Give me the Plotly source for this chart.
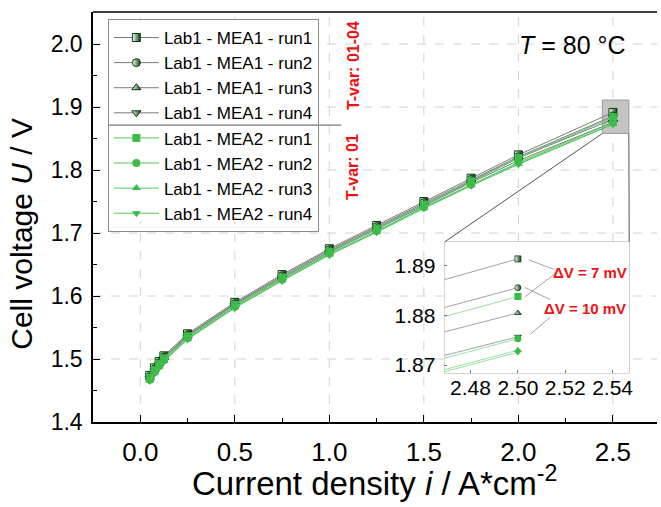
import plotly.graph_objects as go

# ---------------- data ----------------
current = [0.05, 0.075, 0.1, 0.125, 0.25, 0.5, 0.75, 1.0, 1.25, 1.5, 1.75, 2.0, 2.5]

mea1_run1 = [1.474, 1.486, 1.496, 1.505, 1.540, 1.590, 1.634, 1.675, 1.712, 1.750, 1.787, 1.824, 1.8914]
mea1_run2 = [1.472, 1.484, 1.494, 1.503, 1.538, 1.588, 1.632, 1.673, 1.710, 1.748, 1.785, 1.821, 1.8856]
mea1_run3 = [1.471, 1.483, 1.493, 1.502, 1.537, 1.587, 1.630, 1.671, 1.708, 1.746, 1.783, 1.819, 1.8805]
mea1_run4 = [1.469, 1.481, 1.491, 1.500, 1.535, 1.585, 1.628, 1.669, 1.706, 1.744, 1.780, 1.815, 1.8757]
mea2_run1 = [1.470, 1.482, 1.492, 1.501, 1.536, 1.586, 1.629, 1.670, 1.707, 1.745, 1.782, 1.819, 1.8838]
mea2_run2 = [1.467, 1.479, 1.489, 1.498, 1.533, 1.583, 1.626, 1.667, 1.703, 1.741, 1.777, 1.812, 1.8753]
mea2_run3 = [1.466, 1.478, 1.488, 1.497, 1.532, 1.582, 1.625, 1.666, 1.702, 1.740, 1.776, 1.810, 1.8730]
mea2_run4 = [1.465, 1.477, 1.487, 1.496, 1.531, 1.581, 1.624, 1.665, 1.701, 1.739, 1.775, 1.809, 1.8726]

names = ["Lab1 - MEA1 - run1", "Lab1 - MEA1 - run2", "Lab1 - MEA1 - run3", "Lab1 - MEA1 - run4",
         "Lab1 - MEA2 - run1", "Lab1 - MEA2 - run2", "Lab1 - MEA2 - run3", "Lab1 - MEA2 - run4"]
series = [mea1_run1, mea1_run2, mea1_run3, mea1_run4, mea2_run1, mea2_run2, mea2_run3, mea2_run4]
symbols = ["square", "circle", "triangle-up", "triangle-down"] * 2

x_ticks = [0.0, 0.5, 1.0, 1.5, 2.0, 2.5]
y_ticks = [1.4, 1.5, 1.6, 1.7, 1.8, 1.9, 2.0]
inset_x_ticks = [2.48, 2.50, 2.52, 2.54]
inset_y_ticks = [1.87, 1.88, 1.89]

# ---------------- styling ----------------
FONT = "Liberation Sans, Arial, sans-serif"
DARK = "#0b3d10"
GREEN = "#3dbb4a"
LINE1 = "#7a7a7a"
LINE2 = "#55c860"

XR = [-0.25, 2.733]
YR = [1.4, 2.0508]
IXR = [2.469, 2.547]
IYR = [1.8684, 1.8948]
IDX = [0.6232, 0.9507]
IDY = [0.1195, 0.439]

fig = go.Figure()

for k, (nm, ys) in enumerate(zip(names, series)):
    mea1 = k < 4
    if mea1:
        marker = dict(symbol=symbols[k], size=8, color="white",
                      gradient=dict(type="horizontal", color=DARK),
                      line=dict(color=DARK, width=1))
        mk_in = dict(symbol=symbols[k], size=6, color="white",
                     gradient=dict(type="horizontal", color=DARK),
                     line=dict(color=DARK, width=0.8))
        lc = LINE1
    else:
        marker = dict(symbol=symbols[k], size=8, color=GREEN, line=dict(width=0))
        mk_in = dict(symbol=symbols[k], size=7, color=GREEN, line=dict(width=0))
        lc = LINE2
    fig.add_trace(go.Scatter(x=current, y=ys, name=nm, mode="lines+markers",
                             line=dict(color=lc, width=1), marker=marker,
                             legendgroup="g1" if mea1 else "g2",
                             xaxis="x", yaxis="y"))
    fig.add_trace(go.Scatter(x=current, y=ys, name=nm, mode="lines+markers",
                             line=dict(color=LINE1 if mea1 else "#6fd27a", width=0.7),
                             marker=mk_in, showlegend=False,
                             xaxis="x2", yaxis="y2"))

# zoom box in the main plot
bx0, bx1, by0, by1 = 2.444, 2.584, 1.858, 1.911
# inset corners expressed in main-axis data coords
ix0 = XR[0] + IDX[0] * (XR[1] - XR[0])
ix1 = XR[0] + IDX[1] * (XR[1] - XR[0])
iy1 = YR[0] + IDY[1] * (YR[1] - YR[0])

shapes = []
# dashed grid (drawn as shapes so the grey boxes can cover it)
for v in x_ticks:
    shapes.append(dict(type="line", xref="x", yref="paper", x0=v, x1=v, y0=0, y1=1,
                       line=dict(color="#d2d2d2", width=1, dash="dash"), layer="below"))
for v in y_ticks[1:]:
    shapes.append(dict(type="line", xref="paper", yref="y", x0=0, x1=1, y0=v, y1=v,
                       line=dict(color="#d2d2d2", width=1, dash="dash"), layer="below"))
shapes += [
    dict(type="rect", xref="x", yref="y", x0=bx0, x1=bx1, y0=by0, y1=by1,
         fillcolor="#c4c4c4", line=dict(color="#9a9a9a", width=1), layer="below"),
    dict(type="rect", xref="paper", yref="paper", x0=IDX[0], x1=IDX[1], y0=IDY[0], y1=IDY[1],
         fillcolor="#c4c4c4", line=dict(color="#a8a8a8", width=1), layer="below"),
    dict(type="line", xref="x", yref="y", x0=bx0, y0=by0, x1=ix0, y1=iy1,
         line=dict(color="#555555", width=1)),
    dict(type="line", xref="x", yref="y", x0=bx1, y0=by0, x1=ix1, y1=iy1,
         line=dict(color="#555555", width=1)),
    # top frame line
    dict(type="line", xref="paper", yref="paper", x0=0, x1=1, y0=1, y1=1,
         line=dict(color="black", width=1.5)),
    # white backing for the (transparent) legend
    dict(type="rect", xref="paper", yref="paper", x0=0.028, x1=0.41, y0=0.49, y1=0.978,
         fillcolor="white", line=dict(width=0), layer="above"),
    # legend divider
    dict(type="line", xref="paper", yref="paper", x0=0.0264, x1=0.440, y0=0.724, y1=0.724,
         line=dict(color="#777777", width=1.2)),
    # pointer lines in the inset
    dict(type="line", xref="x2", yref="y2", x0=2.5046, y0=1.8912, x1=2.5151, y1=1.8893,
         line=dict(color="#8a8a8a", width=0.8)),
    dict(type="line", xref="x2", yref="y2", x0=2.5151, y0=1.8882, x1=2.5031, y1=1.8838,
         line=dict(color="#8a8a8a", width=0.8)),
    dict(type="line", xref="x2", yref="y2", x0=2.5031, y0=1.8856, x1=2.5136, y1=1.8832,
         line=dict(color="#8a8a8a", width=0.8)),
    dict(type="line", xref="x2", yref="y2", x0=2.5136, y0=1.8796, x1=2.5052, y1=1.8762,
         line=dict(color="#8a8a8a", width=0.8)),
]

annotations = [
    dict(text="Current density <i>i</i> / A*cm<sup>-2</sup>", xref="paper", yref="paper",
         x=0.4995, y=-0.145, showarrow=False, font=dict(size=33, color="black"),
         xanchor="center", yanchor="middle"),
    dict(text="Cell voltage <i>U</i> / V", xref="paper", yref="paper",
         x=-0.127, y=0.46, showarrow=False, font=dict(size=30, color="black"),
         textangle=-90, xanchor="center", yanchor="middle"),
    dict(text="<i>T</i> = 80 °C", xref="paper", yref="paper", x=0.851, y=0.9195,
         showarrow=False, font=dict(size=25, color="black"),
         xanchor="center", yanchor="middle"),
    dict(text="<b>T-var: 01-04</b>", xref="paper", yref="paper", x=0.461, y=0.868,
         showarrow=False, textangle=-90, font=dict(size=16, color="#ee1111"),
         xanchor="center", yanchor="middle"),
    dict(text="<b>T-var: 01</b>", xref="paper", yref="paper", x=0.461, y=0.622,
         showarrow=False, textangle=-90, font=dict(size=16, color="#ee1111"),
         xanchor="center", yanchor="middle"),
    dict(text="<b>ΔV = 7 mV</b>", xref="x2", yref="y2", x=2.5305, y=1.8886,
         showarrow=False, font=dict(size=15, color="#ee1111")),
    dict(text="<b>ΔV = 10 mV</b>", xref="x2", yref="y2", x=2.5283, y=1.8814,
         showarrow=False, font=dict(size=15, color="#ee1111")),
]

fig.update_layout(
    width=661, height=507,
    margin=dict(l=93, r=0, t=12, b=85),
    paper_bgcolor="white", plot_bgcolor="white",
    font=dict(family=FONT, color="black"),
    showlegend=True,
    legend=dict(x=0.0264, y=0.983, xanchor="left", yanchor="top",
                bgcolor="rgba(255,255,255,0)", bordercolor="#8c8c8c", borderwidth=1,
                font=dict(size=17, color="black"), itemwidth=45,
                tracegroupgap=0, traceorder="normal"),
    xaxis=dict(range=XR, domain=[0, 1], tickvals=x_ticks, tickformat=".1f",
               ticks="inside", ticklen=7, tickwidth=1.2, tickcolor="black",
               minor=dict(dtick=0.25, ticks="inside", ticklen=4, tickcolor="black", showgrid=False),
               showline=True, linecolor="black", linewidth=1.5, zeroline=False, showgrid=False,
               tickfont=dict(size=26), ticklabelstandoff=6, anchor="y"),
    yaxis=dict(range=YR, domain=[0, 1], tickvals=y_ticks, tickformat=".1f",
               ticks="inside", ticklen=7, tickwidth=1.2, tickcolor="black",
               minor=dict(dtick=0.05, ticks="inside", ticklen=4, tickcolor="black", showgrid=False),
               showline=True, linecolor="black", linewidth=1.5, zeroline=False, showgrid=False,
               tickfont=dict(size=23), ticklabelstandoff=4, anchor="x"),
    xaxis2=dict(range=IXR, domain=IDX, anchor="y2", tickvals=inset_x_ticks, tickformat=".2f",
                ticks="inside", ticklen=3, tickcolor="#777777", showgrid=False,
                showline=False, zeroline=False, tickfont=dict(size=21)),
    yaxis2=dict(range=IYR, domain=IDY, anchor="x2", tickvals=inset_y_ticks, tickformat=".2f",
                ticks="inside", ticklen=3, tickcolor="#777777", showgrid=False,
                showline=False, zeroline=False, tickfont=dict(size=21), ticklabelstandoff=8),
    shapes=shapes,
    annotations=annotations,
)

fig.write_html("out.html")
